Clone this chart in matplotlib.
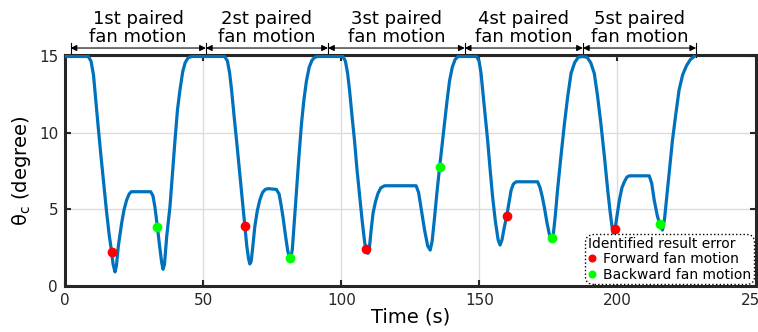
import matplotlib.pyplot as plt
import matplotlib.transforms as mtransforms

# theta_c trace (time in s, angle in degree)
time_s = [0, 8.4, 9.4, 10.3, 11.0, 12.0, 13.0, 14.0, 15.0, 16.0, 16.8, 17.4, 18.1, 18.6, 19.3,
          20.5, 21.4, 22.3, 23.2, 24.0, 31.0, 31.8, 32.5, 33.4, 34.3, 35.0, 35.5, 36.0, 36.8, 38.0,
          39.0, 39.8, 40.7, 41.6, 42.6, 43.5, 44.5, 45.8,
          57.8, 58.8, 59.6, 60.3, 61.2, 62.1, 63.0, 63.9, 64.5, 65.1, 65.8, 66.4, 66.9, 67.4, 68.0,
          68.7, 69.6, 70.5, 71.5, 72.5, 73.5, 76.5, 77.5, 78.2, 78.9, 79.8, 80.6, 81.3, 81.7, 82.3,
          83.0, 83.8, 84.7, 85.6, 86.5, 87.4, 88.4, 89.4, 90.4, 91.6,
          100.6, 101.5, 102.3, 103.0, 103.9, 104.8, 105.7, 106.7, 107.6, 108.5, 109.2, 109.7, 110.2,
          110.8, 111.5, 112.4, 113.3, 114.3, 115.7, 127.1, 128.0, 128.7, 129.2, 130.2, 131.3, 132.2,
          132.9, 133.8, 134.7, 135.6, 136.5, 137.4, 138.3, 139.2, 140.2, 141.2, 142.3,
          149.0, 149.9, 150.6, 151.2, 152.1, 153.0, 153.9, 154.8, 155.8, 156.8, 157.5, 158.2, 159.0,
          159.9, 160.7, 161.5, 162.3, 163.3, 171.1, 172.0, 172.8, 173.5, 174.4, 175.3, 176.1, 176.8,
          177.5, 178.3, 179.5, 180.8, 182.0, 183.2, 184.5, 185.8, 187.4,
          189.0, 190.3, 191.6, 192.8, 194.0, 195.3, 196.5, 197.3, 198.0, 198.5, 199.1, 199.6, 200.7,
          201.6, 202.5, 203.4, 204.3, 211.5, 212.4, 213.3, 214.4, 215.5, 216.3, 217.0, 218.1, 219.0,
          219.9, 221.1, 222.3, 223.6, 225.0, 226.4, 227.8]
theta_c = [15.0, 15.0, 14.7, 13.8, 12.4, 10.4, 8.5, 6.7, 4.9, 3.3, 2.3, 1.4, 0.9, 1.3, 2.6,
           4.1, 5.0, 5.6, 6.0, 6.15, 6.15, 5.9, 5.2, 3.9, 2.5, 1.5, 1.07, 1.4, 3.2, 5.2,
           7.6, 9.5, 11.5, 12.8, 14.0, 14.6, 14.9, 15.0,
           15.0, 14.7, 13.9, 12.8, 11.1, 9.5, 7.8, 6.1, 5.0, 3.9, 2.6, 1.8, 1.42, 1.6, 2.6,
           3.86, 4.9, 5.6, 6.1, 6.3, 6.35, 6.3, 6.0, 5.3, 4.5, 3.3, 2.3, 1.8, 1.75, 2.4,
           4.2, 6.25, 8.5, 10.6, 12.2, 13.4, 14.3, 14.75, 14.95, 15.0,
           15.0, 14.7, 13.9, 12.8, 11.1, 9.5, 7.6, 5.8, 4.2, 2.8, 2.2, 2.12, 2.5,
           3.6, 4.73, 5.5, 6.04, 6.4, 6.54, 6.54, 6.1, 5.3, 4.73, 3.6, 2.6, 2.33,
           2.9, 4.5, 6.2, 7.74, 9.2, 10.6, 12.1, 13.4, 14.3, 14.8, 15.0,
           15.0, 14.7, 13.9, 12.8, 11.2, 9.5, 7.6, 5.8, 4.2, 3.0, 2.66, 3.0, 3.8,
           4.56, 5.4, 6.25, 6.65, 6.8, 6.8, 6.4, 5.8, 5.16, 4.2, 3.4, 3.05, 3.4,
           4.6, 6.25, 8.4, 10.6, 12.4, 13.9, 14.6, 14.95, 15.0,
           14.95, 14.6, 13.9, 12.4, 10.6, 8.4, 6.2, 4.9, 3.9, 3.42, 3.7, 4.3, 5.6,
           6.4, 6.8, 7.1, 7.19, 7.19, 6.7, 5.6, 4.6, 3.9, 3.64, 4.3, 6.25, 7.9,
           9.5, 11.2, 12.8, 13.8, 14.4, 14.8, 15.0]

# identified result error points
fwd_t = [17.1, 65.1, 108.8, 159.9, 199.1]
fwd_theta = [2.22, 3.9, 2.38, 4.56, 3.7]
bwd_t = [33.4, 81.3, 135.6, 176.2, 215.5]
bwd_theta = [3.81, 1.79, 7.74, 3.14, 4.01]

# paired fan motion boundaries along the time axis
bounds = [2.0, 51.0, 95.2, 144.7, 187.5, 228.5]
seg_labels = ["1st paired\nfan motion", "2st paired\nfan motion", "3st paired\nfan motion",
              "4st paired\nfan motion", "5st paired\nfan motion"]

dark = '#262626'

fig = plt.figure(figsize=(7.58, 3.32), dpi=100)
ax = fig.add_axes([0.0858, 0.1395, 0.911, 0.695])

ax.plot(time_s, theta_c, color='#0072BD', lw=2.3, zorder=3)
ax.plot(fwd_t, fwd_theta, 'o', color='#FF0000', ms=6, zorder=4, label='Forward fan motion')
ax.plot(bwd_t, bwd_theta, 'o', color='#00FF00', ms=6, zorder=4, label='Backward fan motion')

ax.set_xlim(0, 250)
ax.set_ylim(0, 15.1)
ax.set_xticks([0, 50, 100, 150, 200, 250])
ax.set_yticks([0, 5, 10, 15])
ax.grid(True, color='#dcdcdc', lw=1)
ax.set_axisbelow(True)
for s in ax.spines.values():
    s.set_linewidth(2.2)
    s.set_color(dark)
ax.tick_params(direction='in', length=4, width=1.5, top=True, right=True,
               labelsize=11, labelcolor=dark, color=dark, pad=5)
ax.set_xlabel('Time (s)', fontsize=14, labelpad=0)
ax.set_ylabel(r'θ$_\mathregular{c}$ (degree)', fontsize=14, labelpad=4)

# double arrows marking each paired fan motion
trans = mtransforms.blended_transform_factory(ax.transData, ax.transAxes)
for b in bounds:
    ax.plot([b, b], [0.99, 1.05], color='black', lw=0.8, transform=trans, clip_on=False)
for i in range(len(seg_labels)):
    ax.annotate('', xy=(bounds[i], 1.03), xytext=(bounds[i + 1], 1.03), xycoords=trans,
                textcoords=trans, arrowprops=dict(arrowstyle='<|-|>', color='black', lw=0.8,
                                                  mutation_scale=9, shrinkA=0, shrinkB=0))
    ax.text((bounds[i] + bounds[i + 1]) / 2, 1.04, seg_labels[i], transform=trans,
            ha='center', va='bottom', fontsize=13, linespacing=1.0)

leg = ax.legend(loc='lower right', title='Identified result error', fontsize=10, title_fontsize=10,
                alignment='left', handlelength=0.6, handletextpad=0.5, borderpad=0.2,
                labelspacing=0.1, borderaxespad=0.1, markerscale=0.8, framealpha=1,
                fancybox=True)
frame = leg.get_frame()
frame.set_boxstyle('round', pad=0, rounding_size=0.6)
frame.set_linestyle(':')
frame.set_edgecolor('black')
frame.set_linewidth(1.0)

fig.savefig('out.png', dpi=100)
